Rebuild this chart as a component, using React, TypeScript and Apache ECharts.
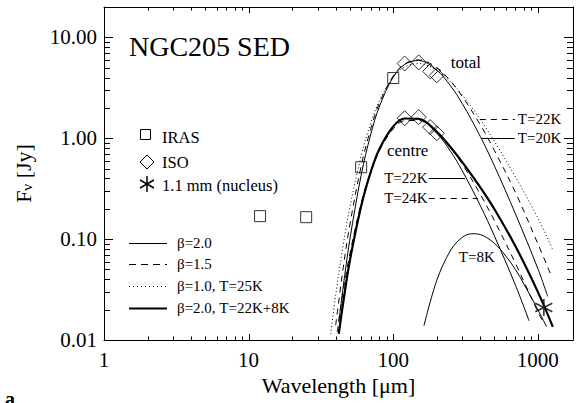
import React, { useEffect, useRef } from "react";
import * as echarts from "echarts";

const FONT = "Liberation Serif";
const X_MIN = 1;
const X_MAX = 1750;
const Y_MIN = 0.01;
const Y_MAX = 20;

// tick positions
const xMajorTicks = [1, 10, 100, 1000];
const xMinorTicks = [2, 3, 4, 5, 6, 7, 8, 9, 20, 30, 40, 50, 60, 70, 80, 90, 200, 300, 400, 500, 600, 700, 800, 900];
const yMajorTicks = [0.01, 0.1, 1, 10];
const yMinorTicks = [0.02, 0.03, 0.04, 0.05, 0.06, 0.07, 0.08, 0.09, 0.2, 0.3, 0.4, 0.5, 0.6, 0.7, 0.8, 0.9, 2, 3, 4, 5, 6, 7, 8, 9];

// observations [wavelength um, flux Jy]
const iras = [[12, 0.169], [25, 0.165], [60, 0.516], [100, 3.95]];
const isoTotal = [[120, 5.5], [150, 5.65], [180, 4.6], [200, 4.2]];
const isoCentre = [[120, 1.58], [150, 1.62], [180, 1.29], [200, 1.12]];
const nucleus = [[1100, 0.021]];

// model curves
const totalB20T20 = [[42, 0.015], [45, 0.033], [50, 0.097], [60, 0.43], [70, 1.1], [80, 2.04], [100, 4.05], [120, 5.4], [150, 5.9], [200, 4.73], [250, 3.28], [300, 2.21], [400, 1.04], [500, 0.535], [700, 0.178], [1000, 0.051], [1170, 0.027]];
const totalB15T22 = [[40, 0.014], [45, 0.051], [50, 0.136], [60, 0.53], [70, 1.25], [80, 2.21], [100, 4.15], [120, 5.45], [150, 5.98], [200, 5.02], [250, 3.67], [300, 2.6], [400, 1.36], [500, 0.76], [700, 0.29], [1000, 0.09], [1250, 0.042]];
const totalB10T25 = [[37, 0.0115], [40, 0.028], [45, 0.086], [50, 0.203], [60, 0.666], [70, 1.42], [80, 2.32], [100, 4.01], [120, 5.08], [150, 5.5], [200, 4.71], [250, 3.6], [300, 2.69], [400, 1.535], [500, 0.936], [700, 0.413], [1000, 0.162], [1270, 0.078]];
const centreB20T22 = [[42, 0.012], [45, 0.024], [50, 0.061], [60, 0.216], [70, 0.47], [80, 0.78], [100, 1.32], [120, 1.57], [150, 1.55], [200, 1.12], [250, 0.735], [300, 0.477], [400, 0.215], [500, 0.108], [700, 0.035], [870, 0.0155]];
const centreB15T24 = [[41, 0.012], [45, 0.03], [50, 0.07], [60, 0.226], [70, 0.47], [80, 0.75], [100, 1.24], [120, 1.49], [150, 1.5], [200, 1.15], [250, 0.8], [300, 0.555], [400, 0.278], [500, 0.153], [700, 0.0575], [1000, 0.019], [1070, 0.0158]];
const centreT8 = [[163, 0.0138], [200, 0.039], [250, 0.078], [300, 0.104], [350, 0.113], [400, 0.111], [500, 0.091], [600, 0.068], [700, 0.05], [800, 0.036], [1000, 0.02], [1150, 0.0135]];
const centreSum = [[42, 0.0115], [45, 0.023], [50, 0.06], [60, 0.212], [70, 0.465], [80, 0.775], [100, 1.31], [120, 1.57], [150, 1.56], [200, 1.16], [250, 0.81], [300, 0.58], [400, 0.326], [500, 0.199], [700, 0.085], [1000, 0.03], [1270, 0.0135]];

const ASTERISK = "path://M0,-10L0,10M-8.66,-5L8.66,5M-8.66,5L8.66,-5";

function tickSeries(vals: number[], axis: "x" | "y", len: number) {
  return {
    type: "custom",
    coordinateSystem: "cartesian2d",
    silent: true,
    clip: false,
    z: 6,
    data: vals.map((v) => (axis === "x" ? [v, 1] : [10, v])),
    renderItem: (params: any, api: any) => {
      const cs = params.coordSys;
      const st = { stroke: "#000", lineWidth: 1 };
      if (axis === "x") {
        const px = Math.round(api.coord([api.value(0), 1])[0]) + 0.5;
        const yb = cs.y + cs.height;
        return {
          type: "group",
          children: [
            { type: "line", shape: { x1: px, y1: yb, x2: px, y2: yb - len }, style: st },
            { type: "line", shape: { x1: px, y1: cs.y, x2: px, y2: cs.y + len }, style: st },
          ],
        };
      }
      const py = Math.round(api.coord([10, api.value(1)])[1]) + 0.5;
      const xr = cs.x + cs.width;
      return {
        type: "group",
        children: [
          { type: "line", shape: { x1: cs.x, y1: py, x2: cs.x + len, y2: py }, style: st },
          { type: "line", shape: { x1: xr, y1: py, x2: xr - len, y2: py }, style: st },
        ],
      };
    },
  };
}

function curve(data: number[][], width: number, type: any) {
  return {
    type: "line",
    data,
    smooth: 0.35,
    symbol: "none",
    showSymbol: false,
    silent: true,
    z: 2,
    lineStyle: { color: "#000", width, type },
  };
}

const isPow10 = (v: number) => Math.abs(Math.log10(v) - Math.round(Math.log10(v))) < 1e-6;

export default function App() {
  const ref = useRef<HTMLDivElement>(null);
  useEffect(() => {
    const chart = echarts.init(ref.current!, null, { renderer: "svg" });
    const axisLine = { show: true, lineStyle: { color: "#000", width: 1 } };
    chart.setOption({
      animation: false,
      textStyle: { fontFamily: FONT, color: "#000" },
      grid: { left: 104, right: 5, top: 7, bottom: 63 },
      xAxis: [
        {
          type: "log",
          logBase: 10,
          min: X_MIN,
          max: X_MAX,
          position: "bottom",
          axisLine,
          axisTick: { show: false },
          splitLine: { show: false },
          axisLabel: {
            fontSize: 21,
            fontFamily: FONT,
            color: "#000",
            margin: 9,
            formatter: (v: number) => (isPow10(v) ? String(Math.round(v)) : ""),
          },
          name: "Wavelength [μm]",
          nameLocation: "middle",
          nameGap: 31,
          nameTextStyle: { fontSize: 22, fontFamily: FONT, color: "#000" },
        },
        {
          type: "log",
          logBase: 10,
          min: X_MIN,
          max: X_MAX,
          position: "top",
          axisLine,
          axisTick: { show: false },
          splitLine: { show: false },
          axisLabel: { show: false },
        },
      ],
      yAxis: [
        {
          type: "log",
          logBase: 10,
          min: Y_MIN,
          max: Y_MAX,
          position: "left",
          axisLine,
          axisTick: { show: false },
          splitLine: { show: false },
          axisLabel: {
            fontSize: 21,
            fontFamily: FONT,
            color: "#000",
            margin: 7,
            formatter: (v: number) => (isPow10(v) ? v.toFixed(2) : ""),
          },
          name: "{f|F}{s|ν}{f| [Jy]}",
          nameLocation: "middle",
          nameGap: 70,
          nameRotate: 90,
          nameTextStyle: {
            fontFamily: FONT,
            color: "#000",
            rich: {
              f: { fontSize: 22, fontFamily: FONT, color: "#000" },
              s: { fontSize: 15, fontFamily: FONT, color: "#000", verticalAlign: "bottom" },
            },
          },
        },
        {
          type: "log",
          logBase: 10,
          min: Y_MIN,
          max: Y_MAX,
          position: "right",
          axisLine,
          axisTick: { show: false },
          splitLine: { show: false },
          axisLabel: { show: false },
        },
      ],
      series: [
        curve(totalB20T20, 1, "solid"),
        curve(totalB15T22, 1, [6, 5]),
        curve(totalB10T25, 1, [1, 2.5]),
        curve(centreB20T22, 1, "solid"),
        curve(centreB15T24, 1, [6, 5]),
        curve(centreT8, 1, "solid"),
        curve(centreSum, 2.2, "solid"),
        {
          type: "scatter",
          data: iras,
          symbol: "rect",
          symbolSize: 11,
          z: 4,
          silent: true,
          itemStyle: { color: "transparent", borderColor: "#000", borderWidth: 1 },
        },
        {
          type: "scatter",
          data: isoTotal,
          symbol: "diamond",
          symbolSize: 15,
          z: 4,
          silent: true,
          itemStyle: { color: "transparent", borderColor: "#000", borderWidth: 1 },
        },
        {
          type: "scatter",
          data: isoCentre,
          symbol: "diamond",
          symbolSize: 15,
          z: 4,
          silent: true,
          itemStyle: { color: "transparent", borderColor: "#000", borderWidth: 1 },
        },
        {
          type: "scatter",
          data: nucleus,
          symbol: ASTERISK,
          symbolSize: 17,
          z: 4,
          silent: true,
          itemStyle: { color: "transparent", borderColor: "#000", borderWidth: 1.6 },
        },
        tickSeries(xMajorTicks, "x", 6),
        tickSeries(xMinorTicks, "x", 3.5),
        tickSeries(yMajorTicks, "y", 9),
        tickSeries(yMinorTicks, "y", 6),
      ],
    });

    const px = (l: number, f: number) => chart.convertToPixel({ gridIndex: 0 }, [l, f]) as number[];
    const txt = (l: number, f: number, s: string, size: number, align = "left") => {
      const p = px(l, f);
      return {
        type: "text",
        x: p[0],
        y: p[1],
        style: { text: s, font: `${size}px "${FONT}"`, fill: "#000", align, verticalAlign: "middle" },
        z: 10,
      };
    };
    const lin = (l1: number, l2: number, f: number, dash: any) => {
      const a = px(l1, f);
      const b = px(l2, f);
      const y = Math.round(a[1]) + 0.5;
      return {
        type: "line",
        shape: { x1: a[0], y1: y, x2: b[0], y2: y },
        style: { stroke: "#000", lineWidth: 1, lineDash: dash },
        z: 10,
      };
    };

    const st = { stroke: "#000", lineWidth: 1, fill: "none" };
    const legendLine = (y: number, w: number, dash: any) => ({
      type: "line",
      shape: { x1: 129, y1: y + 0.5, x2: 167, y2: y + 0.5 },
      style: { stroke: "#000", lineWidth: w, lineDash: dash },
    });
    const legendText = (x: number, y: number, s: string, size: number) => ({
      type: "text",
      x,
      y,
      style: { text: s, font: `${size}px "${FONT}"`, fill: "#000", verticalAlign: "middle" },
    });

    chart.setOption({
      graphic: [
        {
          type: "text",
          x: 129,
          y: 46,
          style: { text: "NGC205 SED", font: `28px "${FONT}"`, fill: "#000", verticalAlign: "middle" },
        },
        // symbol legend
        { type: "rect", shape: { x: 140.5, y: 129.5, width: 10, height: 10 }, style: st },
        { type: "polygon", shape: { points: [[147, 155], [154, 162], [147, 169], [140, 162]] }, style: st },
        {
          type: "group",
          children: [
            { type: "line", shape: { x1: 147, y1: 176, x2: 147, y2: 192 }, style: { stroke: "#000", lineWidth: 1.5 } },
            { type: "line", shape: { x1: 140, y1: 180, x2: 154, y2: 188 }, style: { stroke: "#000", lineWidth: 1.5 } },
            { type: "line", shape: { x1: 140, y1: 188, x2: 154, y2: 180 }, style: { stroke: "#000", lineWidth: 1.5 } },
          ],
        },
        legendText(162, 137, "IRAS", 16.5),
        legendText(162, 162, "ISO", 16.5),
        legendText(162, 185, "1.1 mm (nucleus)", 16.5),
        // line legend
        legendLine(243, 1, null),
        legendLine(264, 1, [7, 5]),
        legendLine(286, 1, [1, 3]),
        legendLine(308, 2.2, null),
        legendText(177, 243, "β=2.0", 15),
        legendText(177, 264, "β=1.5", 15),
        legendText(177, 286, "β=1.0, T=25K", 15),
        legendText(177, 308, "β=2.0, T=22K+8K", 15),
        // annotations
        txt(250, 5.66, "total", 17),
        txt(90.4, 0.76, "centre", 17),
        lin(397, 693, 1.54, [6, 5]),
        txt(727, 1.54, "T=22K", 15),
        lin(410, 693, 1.0, null),
        txt(727, 1.0, "T=20K", 15),
        lin(176, 313, 0.402, null),
        txt(173, 0.402, "T=22K", 15, "right"),
        lin(176, 385, 0.255, [6, 5]),
        txt(173, 0.255, "T=24K", 15, "right"),
        txt(284, 0.0663, "T=8K", 15),
        {
          type: "text",
          x: 5,
          y: 389,
          style: { text: "a", font: `bold 20px "${FONT}"`, fill: "#000", verticalAlign: "top" },
        },
      ],
    });
    return () => chart.dispose();
  }, []);
  return <div ref={ref} style={{ position: "absolute", left: 0, top: 0, width: 578, height: 403 }} />;
}
